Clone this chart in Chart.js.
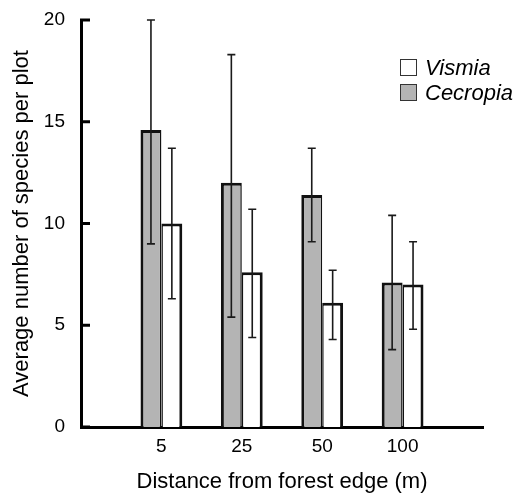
<!DOCTYPE html>
<html>
<head>
<meta charset="utf-8">
<title>Species per plot</title>
<script src="https://cdn.jsdelivr.net/npm/chart.js@4.4.1/dist/chart.umd.min.js"></script>
<style>
  html, body { margin: 0; padding: 0; background: #fff; }
  #wrap { position: relative; width: 515px; height: 495px; }
  #legend {
    position: absolute; left: 400px; top: 55px;
    font: italic 22px "Liberation Sans", Arial, sans-serif; color: #000;
  }
  .item { display: flex; align-items: center; height: 25px; }
  .swatch { width: 15px; height: 15px; border: 1.5px solid #333; margin-right: 8px; }
</style>
</head>
<body>
<div id="wrap">
  <canvas id="speciesChart" width="515" height="495"></canvas>
  <div id="legend"></div>
</div>
<script>
// distance classes, empty labels pad the ends of the axis
const distances = ['', '5', '25', '50', '100', ''];
const yTicks = [0, 5, 10, 15, 20];

// Cecropia (grey bars)
const cecropiaMean = [null, 14.6, 12.0, 11.4, 7.1, null];
const cecropiaLow  = [null, 9.0, 5.4, 9.1, 3.8, null];
const cecropiaHigh = [null, 20.0, 18.3, 13.7, 10.4, null];

// Vismia (white bars)
const vismiaMean = [null, 10.0, 7.6, 6.1, 7.0, null];
const vismiaLow  = [null, 6.3, 4.4, 4.3, 4.8, null];
const vismiaHigh = [null, 13.7, 10.7, 7.7, 9.1, null];

Chart.defaults.font.family = '"Liberation Sans", Arial, sans-serif';
Chart.defaults.color = '#000';

// whiskers drawn on top of the bars
const errorBars = {
  id: 'errorBars',
  afterDatasetsDraw(chart) {
    const ctx = chart.ctx;
    const yScale = chart.scales.y;
    chart.data.datasets.forEach((ds, i) => {
      const meta = chart.getDatasetMeta(i);
      meta.data.forEach((bar, j) => {
        if (ds.errLow[j] == null) return;
        const top = yScale.getPixelForValue(ds.errHigh[j]);
        const bottom = yScale.getPixelForValue(ds.errLow[j]);
        ctx.save();
        ctx.strokeStyle = '#1a1a1a';
        ctx.lineWidth = 1.6;
        ctx.beginPath();
        ctx.moveTo(bar.x, top); ctx.lineTo(bar.x, bottom);
        ctx.moveTo(bar.x - 4, top); ctx.lineTo(bar.x + 4, top);
        ctx.moveTo(bar.x - 4, bottom); ctx.lineTo(bar.x + 4, bottom);
        ctx.stroke();
        ctx.restore();
      });
    });
  }
};

// tick marks pointing into the plot
const innerTicks = {
  id: 'innerTicks',
  afterDraw(chart) {
    const y = chart.scales.y;
    const ctx = chart.ctx;
    ctx.save();
    ctx.strokeStyle = '#000';
    ctx.lineWidth = 3;
    y.ticks.forEach(t => {
      const py = y.getPixelForValue(t.value);
      ctx.beginPath();
      ctx.moveTo(y.right - 1, py);
      ctx.lineTo(y.right + 9, py);
      ctx.stroke();
    });
    ctx.restore();
  }
};

const chart = new Chart(document.getElementById('speciesChart'), {
  type: 'bar',
  data: {
    labels: distances,
    datasets: [
      {
        label: 'Cecropia',
        data: cecropiaMean,
        errLow: cecropiaLow,
        errHigh: cecropiaHigh,
        backgroundColor: '#b4b4b4',
        borderColor: '#111',
        borderWidth: { top: 3, left: 3, right: 1.5, bottom: 0 },
        categoryPercentage: 0.52,
        barPercentage: 1
      },
      {
        label: 'Vismia',
        data: vismiaMean,
        errLow: vismiaLow,
        errHigh: vismiaHigh,
        backgroundColor: '#fff',
        borderColor: '#111',
        borderWidth: { top: 3, left: 1.5, right: 3, bottom: 0 },
        categoryPercentage: 0.52,
        barPercentage: 1
      }
    ]
  },
  options: {
    responsive: false,
    devicePixelRatio: 1,
    animation: false,
    layout: { padding: { top: 20, right: 32, left: 0, bottom: 0 } },
    plugins: {
      legend: { display: false },
      tooltip: { enabled: false }
    },
    scales: {
      x: {
        offset: false,
        z: 1,
        grid: { display: false, drawTicks: false },
        border: { display: true, color: '#000', width: 3 },
        ticks: { font: { size: 19 }, padding: 8, maxRotation: 0, autoSkip: false },
        title: {
          display: true,
          text: 'Distance from forest edge (m)',
          font: { size: 22 },
          padding: { top: 4, bottom: 0 }
        },
        afterFit: (scale) => { scale.height = 68; }
      },
      y: {
        min: 0,
        max: 20,
        z: 1,
        grid: { display: false, drawTicks: false },
        border: { display: true, color: '#000', width: 3 },
        ticks: { stepSize: 5, font: { size: 19 }, padding: 16 },
        afterBuildTicks: (scale) => { scale.ticks = yTicks.map(v => ({ value: v })); },
        title: {
          display: true,
          text: 'Average number of species per plot',
          font: { size: 22 },
          padding: { top: 9, bottom: 4 }
        },
        afterFit: (scale) => {
          scale.width = 81;
          scale.paddingTop = 0;
          scale.paddingBottom = 0;
        }
      }
    }
  },
  plugins: [errorBars, innerTicks]
});

// legend box, Vismia listed first as in the figure
const legendEl = document.getElementById('legend');
chart.data.datasets.slice().reverse().forEach(ds => {
  const item = document.createElement('div');
  item.className = 'item';
  const sw = document.createElement('span');
  sw.className = 'swatch';
  sw.style.background = ds.backgroundColor;
  const txt = document.createElement('span');
  txt.textContent = ds.label;
  item.appendChild(sw);
  item.appendChild(txt);
  legendEl.appendChild(item);
});
</script>
</body>
</html>
